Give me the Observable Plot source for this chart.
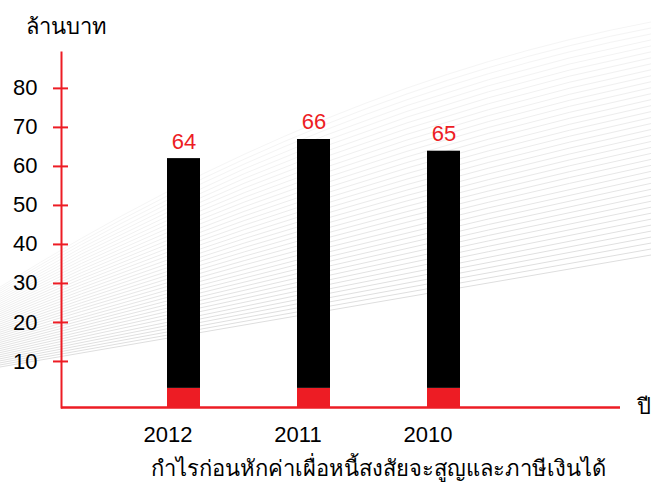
<!DOCTYPE html>
<html>
<head>
<meta charset="utf-8">
<script src="https://cdn.jsdelivr.net/npm/d3@7"></script>
<script src="https://cdn.jsdelivr.net/npm/@observablehq/plot@0.6"></script>
<style>
  html, body { margin: 0; padding: 0; background: #fff; }
  #chart { width: 651px; height: 490px; }
</style>
</head>
<body>
<div id="chart"></div>
<script>
// ---- data ----
const years = ["2012", "2011", "2010"];
const barTops = [62.0, 66.9, 63.9];      // drawn bar heights (ล้านบาท)
const valueLabels = [64, 66, 65];         // printed value labels
const redBase = [3.1, 3.1, 3.1];          // red bottom segment of each bar
const yTicks = [10, 20, 30, 40, 50, 60, 70, 80];
const yTitle = "ล้านบาท";
const xTitle = "ปี";
const caption = "กำไรก่อนหักค่าเผื่อหนี้สงสัยจะสูญและภาษีเงินได้";

const RED = "#ed1c24";
const Y_MIN = -1.8, Y_MAX = 89.2;

const data = years.map((year, i) => ({year, top: barTops[i], label: valueLabels[i], red: redBase[i]}));

// decorative fan of thin grey lines in the background
function fan(index, scales, values, dimensions) {
  const {width} = dimensions;
  const g = document.createElementNS("http://www.w3.org/2000/svg", "g");
  const N = 40;
  for (let i = 0; i < N; i++) {
    const t = i / (N - 1);              // 0 = bottom line, 1 = top line
    const yl = 367 - 80 * t;
    const yr = 255 - 233 * t;
    const bulge = -71 * Math.pow(t, 1.6);
    const cx = width / 2, cy = (yl + yr) / 2 + bulge;
    const p = document.createElementNS("http://www.w3.org/2000/svg", "path");
    p.setAttribute("d", `M0,${yl}Q${cx},${cy} ${width},${yr}`);
    p.setAttribute("fill", "none");
    const c = Math.round(222 + 23 * t);
    p.setAttribute("stroke", `rgb(${c},${c},${c})`);
    p.setAttribute("stroke-width", "1");
    g.appendChild(p);
  }
  return g;
}

const chart = Plot.plot({
  width: 651,
  height: 490,
  marginTop: 52,
  marginBottom: 83,
  marginLeft: 61,
  marginRight: 31,
  style: {fontFamily: "'Liberation Sans', Arial, 'Noto Sans', sans-serif", fontSize: "22px", background: "#fff", color: "#000"},
  x: {domain: years, range: [68.5, 557.5], padding: 0.747},
  y: {domain: [Y_MIN, Y_MAX]},
  marks: [
    fan,
    Plot.barY(data, {x: "year", y1: Y_MIN, y2: "red", fill: RED}),
    Plot.barY(data, {x: "year", y1: "red", y2: "top", fill: "#000"}),
    Plot.ruleY([Y_MIN], {stroke: RED, strokeWidth: 2.5}),
    Plot.frame({anchor: "left", stroke: RED, strokeWidth: 2}),
    Plot.axisY({ticks: yTicks, tickSize: 15, dx: 7, stroke: RED, strokeWidth: 2, fill: "none", label: null}),
    Plot.axisY({ticks: yTicks, tickSize: 0, tickPadding: 24, fill: "#000", fontSize: 22, label: null}),
    Plot.axisX({tickSize: 0, tickPadding: 19, dx: -16, fontSize: 22, fill: "#000", label: null}),
    Plot.text(data, {x: "year", y: "top", text: d => String(d.label), dy: -10, lineAnchor: "bottom", fill: RED, fontSize: 22}),
    Plot.text([yTitle], {frameAnchor: "top-left", text: d => d, dx: -36, dy: -19, textAnchor: "start", lineAnchor: "bottom", fontSize: 22, fill: "#000"}),
    Plot.text([xTitle], {frameAnchor: "bottom-right", text: d => d, dx: 16, dy: 6, textAnchor: "start", lineAnchor: "bottom", fontSize: 22, fill: "#000"}),
    Plot.text([caption], {frameAnchor: "bottom", text: d => d, dx: 37, dy: 68, lineAnchor: "bottom", fontSize: 22, fill: "#000"})
  ]
});
document.getElementById("chart").appendChild(chart);
</script>
</body>
</html>
